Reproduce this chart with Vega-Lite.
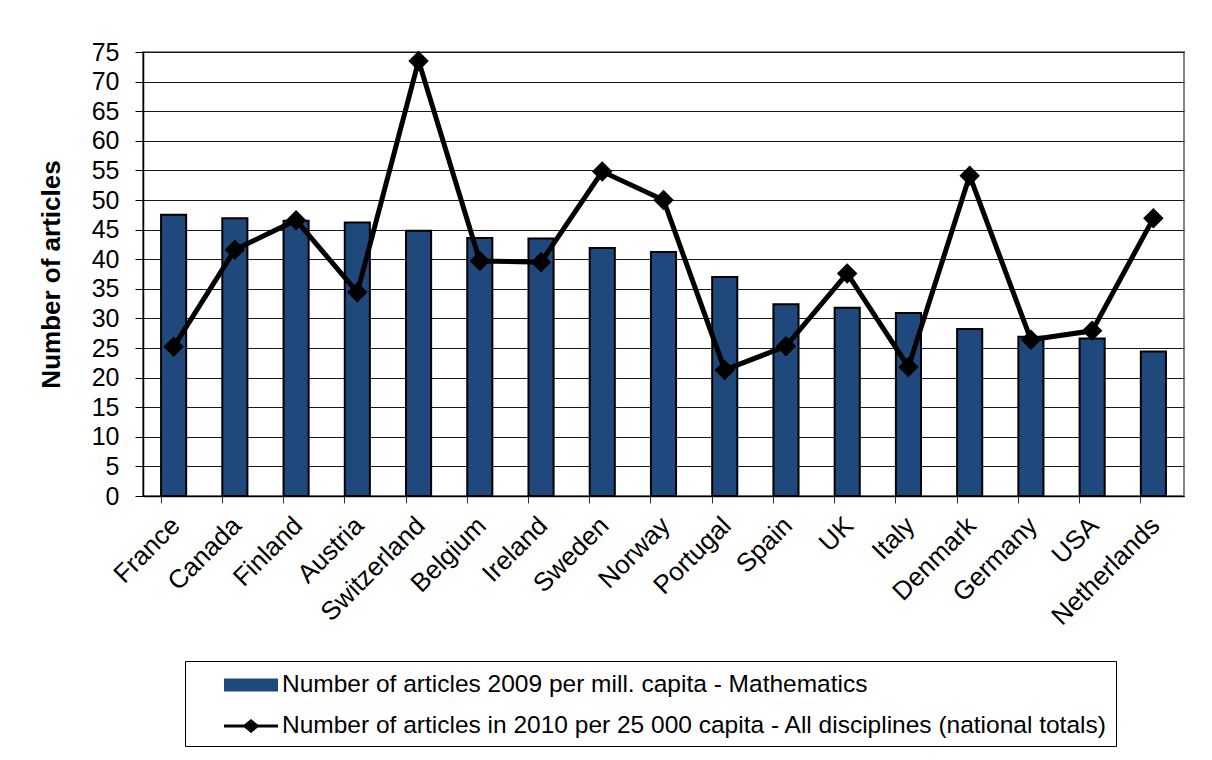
{
  "$schema": "https://vega.github.io/schema/vega-lite/v6.json",
  "width": 1041,
  "height": 444,
  "autosize": {"type": "none"},
  "padding": {"left": 143, "top": 52, "right": 28, "bottom": 264},
  "background": "white",
  "config": {
    "font": "Liberation Sans",
    "view": {"stroke": "#868686", "strokeWidth": 2}
  },
  "data": {
    "values": [
      {"country": "France", "series": "Number of articles 2009 per mill. capita - Mathematics", "articles": 47.5},
      {"country": "Canada", "series": "Number of articles 2009 per mill. capita - Mathematics", "articles": 46.9},
      {"country": "Finland", "series": "Number of articles 2009 per mill. capita - Mathematics", "articles": 46.5},
      {"country": "Austria", "series": "Number of articles 2009 per mill. capita - Mathematics", "articles": 46.2},
      {"country": "Switzerland", "series": "Number of articles 2009 per mill. capita - Mathematics", "articles": 44.8},
      {"country": "Belgium", "series": "Number of articles 2009 per mill. capita - Mathematics", "articles": 43.6},
      {"country": "Ireland", "series": "Number of articles 2009 per mill. capita - Mathematics", "articles": 43.5},
      {"country": "Sweden", "series": "Number of articles 2009 per mill. capita - Mathematics", "articles": 41.9},
      {"country": "Norway", "series": "Number of articles 2009 per mill. capita - Mathematics", "articles": 41.2},
      {"country": "Portugal", "series": "Number of articles 2009 per mill. capita - Mathematics", "articles": 37.0},
      {"country": "Spain", "series": "Number of articles 2009 per mill. capita - Mathematics", "articles": 32.4},
      {"country": "UK", "series": "Number of articles 2009 per mill. capita - Mathematics", "articles": 31.8},
      {"country": "Italy", "series": "Number of articles 2009 per mill. capita - Mathematics", "articles": 30.9},
      {"country": "Denmark", "series": "Number of articles 2009 per mill. capita - Mathematics", "articles": 28.2},
      {"country": "Germany", "series": "Number of articles 2009 per mill. capita - Mathematics", "articles": 26.9},
      {"country": "USA", "series": "Number of articles 2009 per mill. capita - Mathematics", "articles": 26.6},
      {"country": "Netherlands", "series": "Number of articles 2009 per mill. capita - Mathematics", "articles": 24.4},
      {"country": "France", "series": "Number of articles in 2010 per 25 000 capita - All disciplines (national totals)", "articles": 25.2},
      {"country": "Canada", "series": "Number of articles in 2010 per 25 000 capita - All disciplines (national totals)", "articles": 41.6},
      {"country": "Finland", "series": "Number of articles in 2010 per 25 000 capita - All disciplines (national totals)", "articles": 46.6},
      {"country": "Austria", "series": "Number of articles in 2010 per 25 000 capita - All disciplines (national totals)", "articles": 34.4},
      {"country": "Switzerland", "series": "Number of articles in 2010 per 25 000 capita - All disciplines (national totals)", "articles": 73.5},
      {"country": "Belgium", "series": "Number of articles in 2010 per 25 000 capita - All disciplines (national totals)", "articles": 39.7},
      {"country": "Ireland", "series": "Number of articles in 2010 per 25 000 capita - All disciplines (national totals)", "articles": 39.5},
      {"country": "Sweden", "series": "Number of articles in 2010 per 25 000 capita - All disciplines (national totals)", "articles": 54.8},
      {"country": "Norway", "series": "Number of articles in 2010 per 25 000 capita - All disciplines (national totals)", "articles": 50.0},
      {"country": "Portugal", "series": "Number of articles in 2010 per 25 000 capita - All disciplines (national totals)", "articles": 21.3},
      {"country": "Spain", "series": "Number of articles in 2010 per 25 000 capita - All disciplines (national totals)", "articles": 25.3},
      {"country": "UK", "series": "Number of articles in 2010 per 25 000 capita - All disciplines (national totals)", "articles": 37.6},
      {"country": "Italy", "series": "Number of articles in 2010 per 25 000 capita - All disciplines (national totals)", "articles": 21.8},
      {"country": "Denmark", "series": "Number of articles in 2010 per 25 000 capita - All disciplines (national totals)", "articles": 54.1},
      {"country": "Germany", "series": "Number of articles in 2010 per 25 000 capita - All disciplines (national totals)", "articles": 26.4},
      {"country": "USA", "series": "Number of articles in 2010 per 25 000 capita - All disciplines (national totals)", "articles": 27.9},
      {"country": "Netherlands", "series": "Number of articles in 2010 per 25 000 capita - All disciplines (national totals)", "articles": 46.9}
    ]
  },
  "encoding": {
    "x": {
      "field": "country",
      "type": "nominal",
      "sort": null,
      "scale": {"paddingInner": 0.59, "paddingOuter": 0.295},
      "axis": {
        "title": null,
        "labelAngle": -45,
        "labelAlign": "right",
        "labelBaseline": "top",
        "labelFontSize": 26,
        "labelColor": "black",
        "labelPadding": 9,
        "labelOffset": -7,
        "bandPosition": 0,
        "tickSize": 7,
        "tickColor": "#333333",
        "domainColor": "black",
        "domainWidth": 1.5,
        "grid": false
      }
    },
    "y": {
      "field": "articles",
      "type": "quantitative",
      "scale": {"domain": [0, 75], "nice": false},
      "axis": {
        "title": "Number of articles",
        "titleFontSize": 26,
        "titleFontWeight": "bold",
        "titleColor": "black",
        "titlePadding": 27,
        "values": [0, 5, 10, 15, 20, 25, 30, 35, 40, 45, 50, 55, 60, 65, 70, 75],
        "labelFontSize": 25,
        "labelColor": "black",
        "labelPadding": 16,
        "tickSize": 8,
        "tickColor": "black",
        "domainColor": "black",
        "domainWidth": 1.5,
        "gridColor": "#1a1a1a",
        "gridWidth": 1
      }
    }
  },
  "layer": [
    {
      "transform": [{"filter": "datum.series === 'Number of articles 2009 per mill. capita - Mathematics'"}],
      "mark": {"type": "bar", "fill": "#1F497D", "stroke": "black", "strokeWidth": 2},
      "encoding": {}
    },
    {
      "transform": [{"filter": "datum.series !== 'Number of articles 2009 per mill. capita - Mathematics'"}],
      "mark": {"type": "line", "color": "black", "strokeWidth": 5, "strokeJoin": "miter"},
      "encoding": {}
    },
    {
      "transform": [{"filter": "datum.series !== 'Number of articles 2009 per mill. capita - Mathematics'"}],
      "mark": {"type": "point", "shape": "diamond", "filled": true, "color": "black", "size": 420, "opacity": 1},
      "encoding": {}
    },
    {
      "description": "Key layer: carries the series legend (bar swatch and line-with-diamond swatch) without drawing visible marks.",
      "mark": {"type": "point", "filled": true, "opacity": 0, "stroke": "black", "strokeWidth": 1.5},
      "encoding": {
        "fill": {
          "field": "series",
          "type": "nominal",
          "scale": {
            "domain": [
              "Number of articles 2009 per mill. capita - Mathematics",
              "Number of articles in 2010 per 25 000 capita - All disciplines (national totals)"
            ],
            "range": ["#1F497D", "#000000"]
          },
          "legend": {
            "title": null,
            "orient": "none",
            "legendX": 42,
            "legendY": 609,
            "direction": "vertical",
            "strokeColor": "black",
            "fillColor": "white",
            "padding": 8,
            "rowPadding": 13,
            "symbolSize": 900,
            "symbolOpacity": 1,
            "symbolStrokeColor": "black",
            "symbolStrokeWidth": 1.5,
            "symbolOffset": 42,
            "labelOffset": 15,
            "labelFontSize": 24.5,
            "labelColor": "black",
            "labelLimit": 0
          }
        },
        "shape": {
          "field": "series",
          "type": "nominal",
          "scale": {
            "domain": [
              "Number of articles 2009 per mill. capita - Mathematics",
              "Number of articles in 2010 per 25 000 capita - All disciplines (national totals)"
            ],
            "range": [
              "M-1.8,-0.43H1.8V0.43H-1.8Z",
              "M-1.8,-0.1H-0.45L0,-0.47L0.45,-0.1H1.8V0.1H0.45L0,0.47L-0.45,0.1H-1.8Z"
            ]
          },
          "legend": {
            "title": null,
            "orient": "none",
            "legendX": 42,
            "legendY": 609,
            "direction": "vertical",
            "strokeColor": "black",
            "fillColor": "white",
            "padding": 8,
            "rowPadding": 13,
            "symbolSize": 900,
            "symbolOpacity": 1,
            "symbolStrokeColor": "black",
            "symbolStrokeWidth": 1.5,
            "symbolOffset": 42,
            "labelOffset": 15,
            "labelFontSize": 24.5,
            "labelColor": "black",
            "labelLimit": 0
          }
        }
      }
    }
  ]
}
